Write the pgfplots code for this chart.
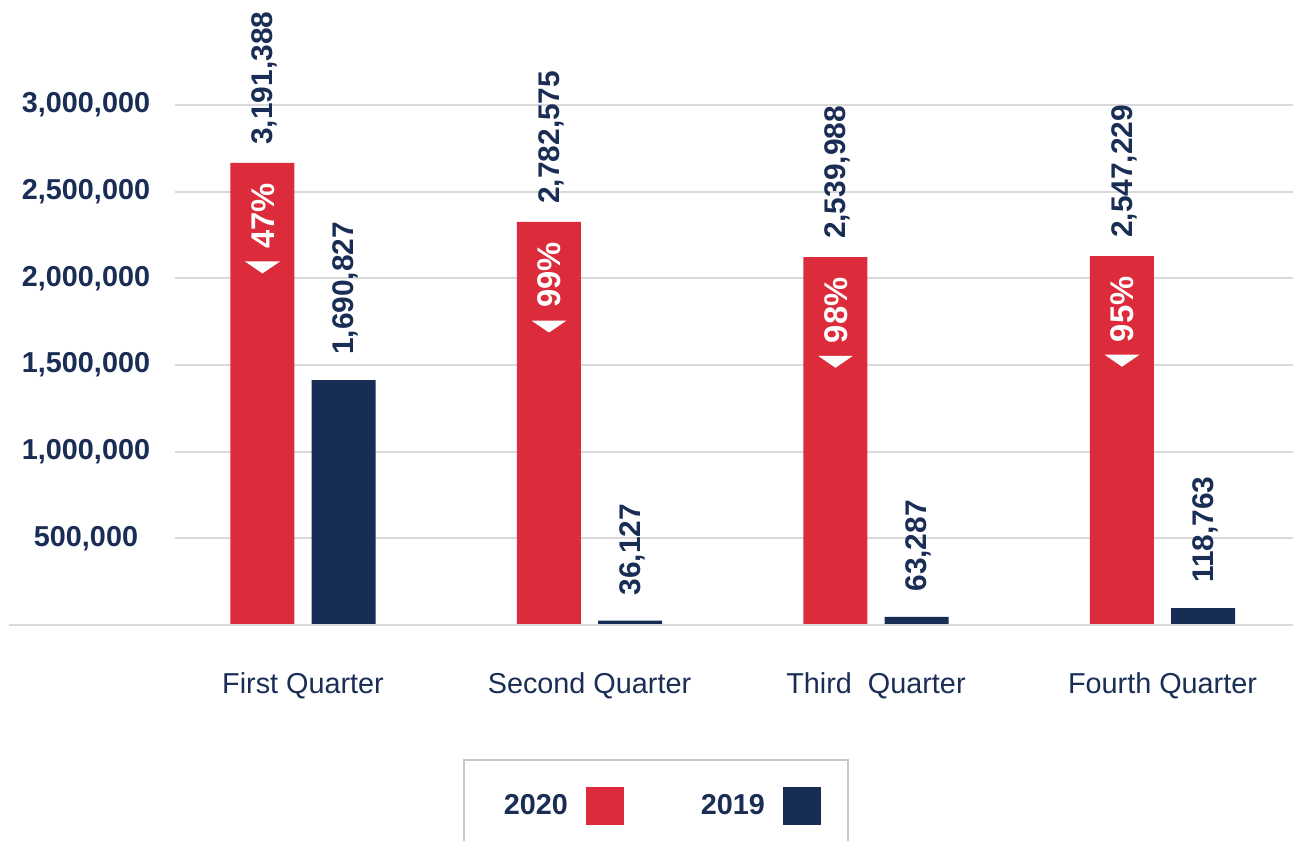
\documentclass[border=0pt]{standalone}
\usepackage{pgfplots}
\pgfplotsset{compat=1.18}
\usepackage{pgfplotstable}
\usepackage{fontspec}
\setmainfont{Liberation Sans}
\definecolor{c20}{HTML}{DC2B3B}
\definecolor{c19}{HTML}{172D53}
\definecolor{navy}{HTML}{1A2E55}
\definecolor{gridc}{HTML}{D9D9D9}
\definecolor{legc}{HTML}{C8C8C8}
\newcommand{\fs}{\fontsize{21.6}{26}\selectfont}
\newcommand{\fv}{\fontsize{22.4}{27}\selectfont}
\newcommand{\fp}{\fontsize{24.6}{29}\selectfont}
\newcommand{\tri}{\tikz[baseline=0pt]\fill[white] (0pt,8.8pt) -- (9pt,-4.3pt) -- (9pt,21.9pt) -- cycle;}

% bars are placed at category index -/+ 0.1414 (the two bars of a group)
\pgfplotstableread{
x y label
-0.1414 2666000 3,191,388
0.8586 2325000 2,782,575
1.8586 2122000 2,539,988
2.8586 2128000 2,547,229
}\tabA
\pgfplotstableread{
x y label
0.1414 1413000 1,690,827
1.1414 25000 36,127
2.1414 47000 63,287
3.1414 97000 118,763
}\tabB
\pgfplotstableread{
x y pct
-0.1414 2666000 47
0.8586 2325000 99
1.8586 2122000 98
2.8586 2128000 95
}\tabP

\begin{document}
\begin{tikzpicture}
\begin{axis}[
  at={(131.25pt,162pt)}, anchor=south west,
  scale only axis, width=838.5pt, height=390pt,
  xmin=-0.4468, xmax=3.4555, ymin=0, ymax=3000000,
  clip=false,
  axis line style={draw=none},
  major tick style={draw=none},
  ytick={500000,1000000,1500000,2000000,2500000,3000000},
  ymajorgrids, grid style={gridc, line width=1.5pt},
  scaled y ticks=false,
  /pgf/number format/fixed,
  /pgf/number format/1000 sep={,},
  /pgf/number format/assume math mode=true,
  yticklabel style={font=\fs\bfseries, text=navy, anchor=center, xshift=-66.75pt},
  xtick={0,1,2,3},
  xticklabels={First Quarter, Second Quarter, Third~~Quarter, Fourth Quarter},
  xticklabel style={font=\fs, text=navy, anchor=center, yshift=-45.75pt},
  legend columns=2, legend plot pos=right,
  legend style={at={(0.2576,-0.2577)}, anchor=north west, draw=legc, line width=1.2pt,
    inner xsep=0pt, inner ysep=20.25pt, column sep=0pt, row sep=0pt,
    font=\fs\bfseries, nodes={text=navy, inner sep=0pt}},
]
\addplot[ybar, bar width=48pt, bar shift=0pt, fill=c20, draw=none,
  nodes near coords, point meta=explicit symbolic,
  every node near coord/.append style={rotate=90, anchor=west, inner xsep=13.5pt, inner ysep=0pt, text depth=0pt, font=\fv\bfseries, text=navy},
  legend image code/.code={\path (0pt,0pt) (99.75pt,0pt); \fill[c20] (13.5pt,-14.25pt) rectangle (42pt,14.25pt);}
] table[x=x, y=y, meta=label] {\tabA};
\addlegendentry{\hspace*{30pt}2020}
\addplot[ybar, bar width=48pt, bar shift=0pt, fill=c19, draw=none,
  nodes near coords, point meta=explicit symbolic,
  every node near coord/.append style={rotate=90, anchor=west, inner xsep=18.75pt, inner ysep=0pt, text depth=0pt, font=\fv\bfseries, text=navy},
  legend image code/.code={\path (0pt,0pt) (62.25pt,0pt); \fill[c19] (13.5pt,-14.25pt) rectangle (42pt,14.25pt);}
] table[x=x, y=y, meta=label] {\tabB};
\addlegendentry{2019}
\addplot[ybar, bar width=48pt, bar shift=0pt, fill=none, draw=none, forget plot,
  nodes near coords={\tri\hspace{9.5pt}\pgfplotspointmeta\%}, point meta=explicit symbolic,
  every node near coord/.append style={rotate=90, anchor=east, inner xsep=15pt, inner ysep=0pt, font=\fp\bfseries, text=white}
] table[x=x, y=y, meta=pct] {\tabP};
\draw[gridc, line width=1.5pt] ([xshift=-124.5pt]axis cs:-0.4468,0) -- (axis cs:3.4555,0);
\end{axis}
\pgfresetboundingbox
\useasboundingbox (0pt,0pt) rectangle (969.75pt,630.75pt);
\end{tikzpicture}
\end{document}
